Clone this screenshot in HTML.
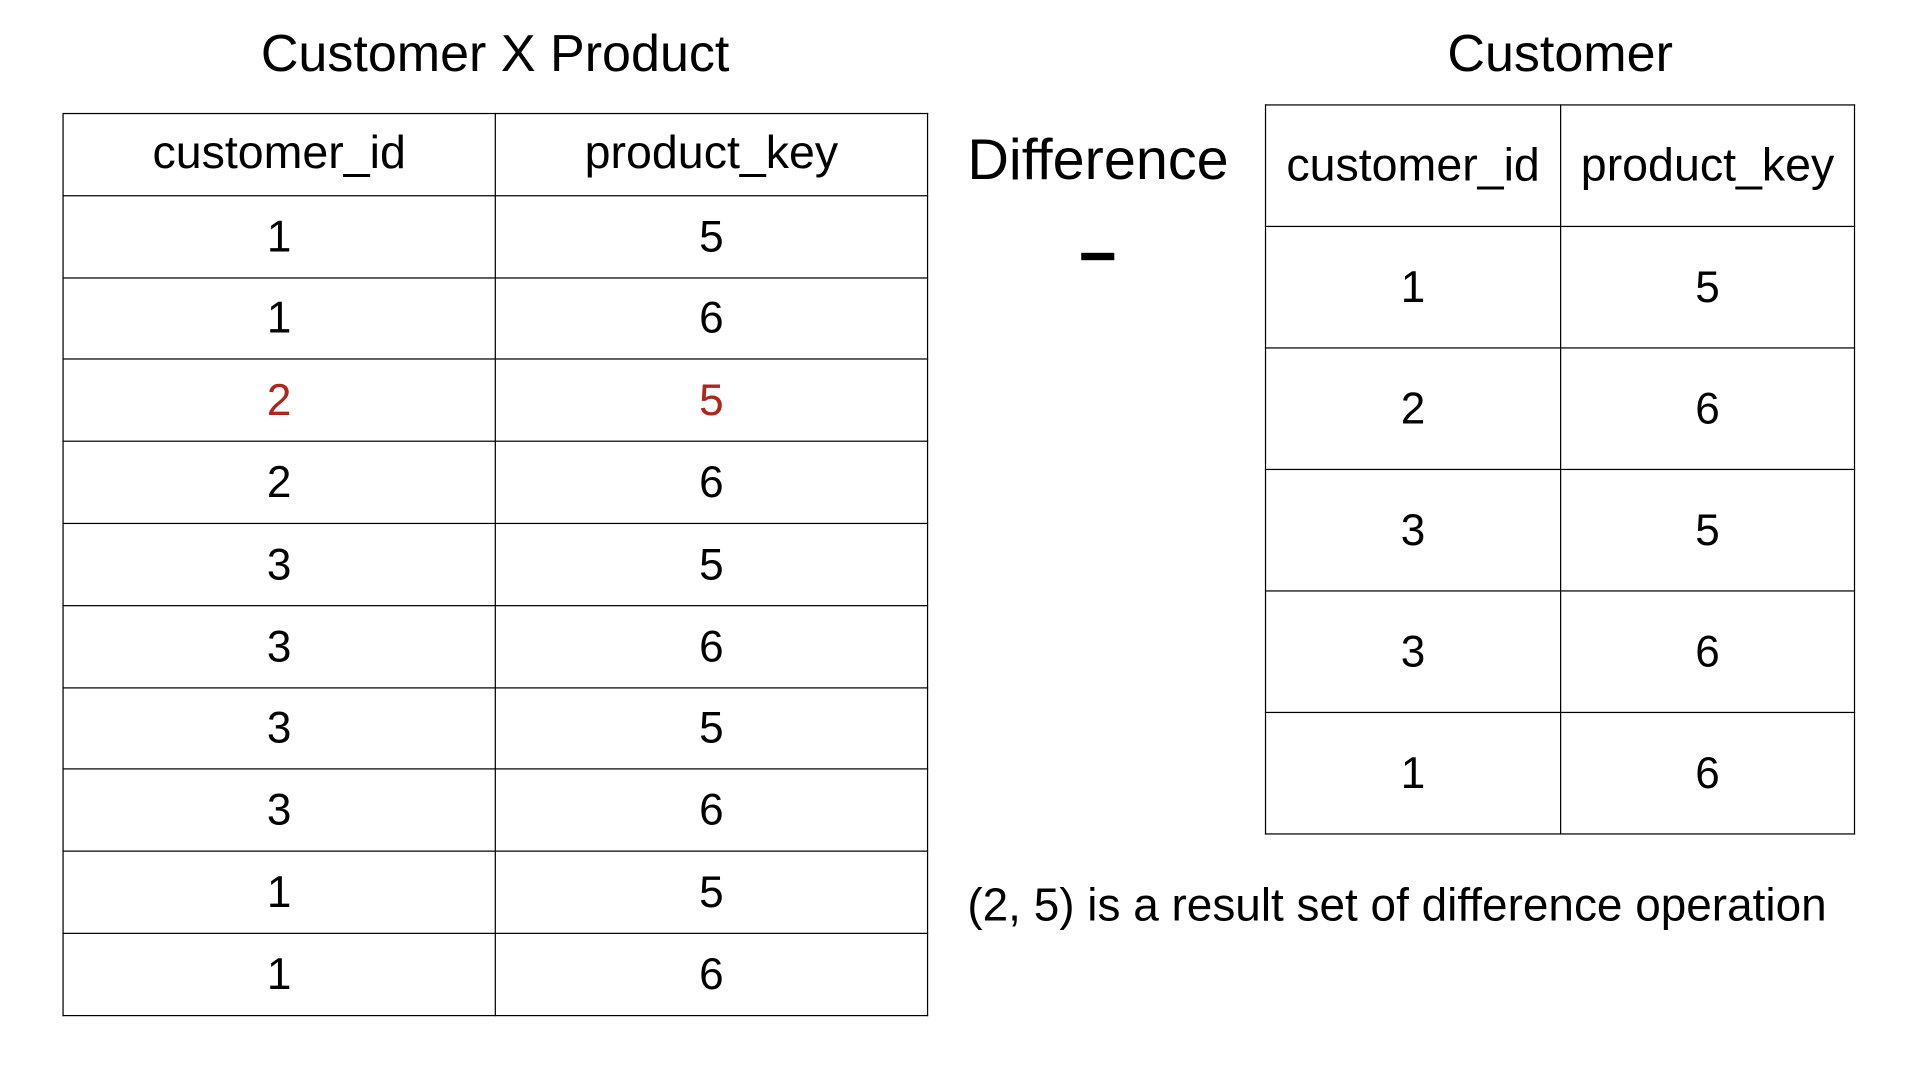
<!DOCTYPE html>
<html><head><meta charset="utf-8"><style>
html,body{margin:0;padding:0;background:#fff;width:1920px;height:1080px;overflow:hidden}
#w{position:absolute;left:0;top:0;width:1568px;height:880px;transform-origin:0 0;transform:scale(1.2245,1.2273);font-family:"Liberation Sans",Arial,sans-serif;color:#000}
.t{position:absolute;white-space:nowrap}
table{position:absolute;border-collapse:collapse}
td{border:1.3px solid #000;text-align:center;padding:0}
.red{color:#b0261a}
.l tr{height:66.8px}
</style></head><body><div id="w">
<div class="t" style="left:213px;top:21px;font-size:42.5px">Customer X Product</div>
<div class="t" style="left:1182px;top:21px;font-size:42.5px">Customer</div>
<div class="t" style="left:790px;top:102px;font-size:47px">Difference</div>
<div style="position:absolute;left:883px;top:206px;width:27px;height:6px;background:#000"></div>
<div class="t" style="left:790px;top:716px;font-size:37.5px">(2, 5) is a result set of difference operation</div>
<table class="l" style="left:51px;top:92px;width:707px;font-size:36px">
<tr><td style="width:352px;font-size:38px">customer_id</td><td style="font-size:38px">product_key</td></tr>
<tr><td>1</td><td>5</td></tr>
<tr><td>1</td><td>6</td></tr>
<tr class="red"><td>2</td><td>5</td></tr>
<tr><td>2</td><td>6</td></tr>
<tr><td>3</td><td>5</td></tr>
<tr><td>3</td><td>6</td></tr>
<tr><td>3</td><td>5</td></tr>
<tr><td>3</td><td>6</td></tr>
<tr><td>1</td><td>5</td></tr>
<tr><td>1</td><td>6</td></tr>
</table>
<table style="left:1033px;top:85px;width:482px;font-size:36px">
<tr style="height:99px"><td style="width:240px;font-size:38px">customer_id</td><td style="font-size:38px">product_key</td></tr>
<tr style="height:99px"><td>1</td><td>5</td></tr>
<tr style="height:99px"><td>2</td><td>6</td></tr>
<tr style="height:99px"><td>3</td><td>5</td></tr>
<tr style="height:99px"><td>3</td><td>6</td></tr>
<tr style="height:99px"><td>1</td><td>6</td></tr>
</table>
</div></body></html>
